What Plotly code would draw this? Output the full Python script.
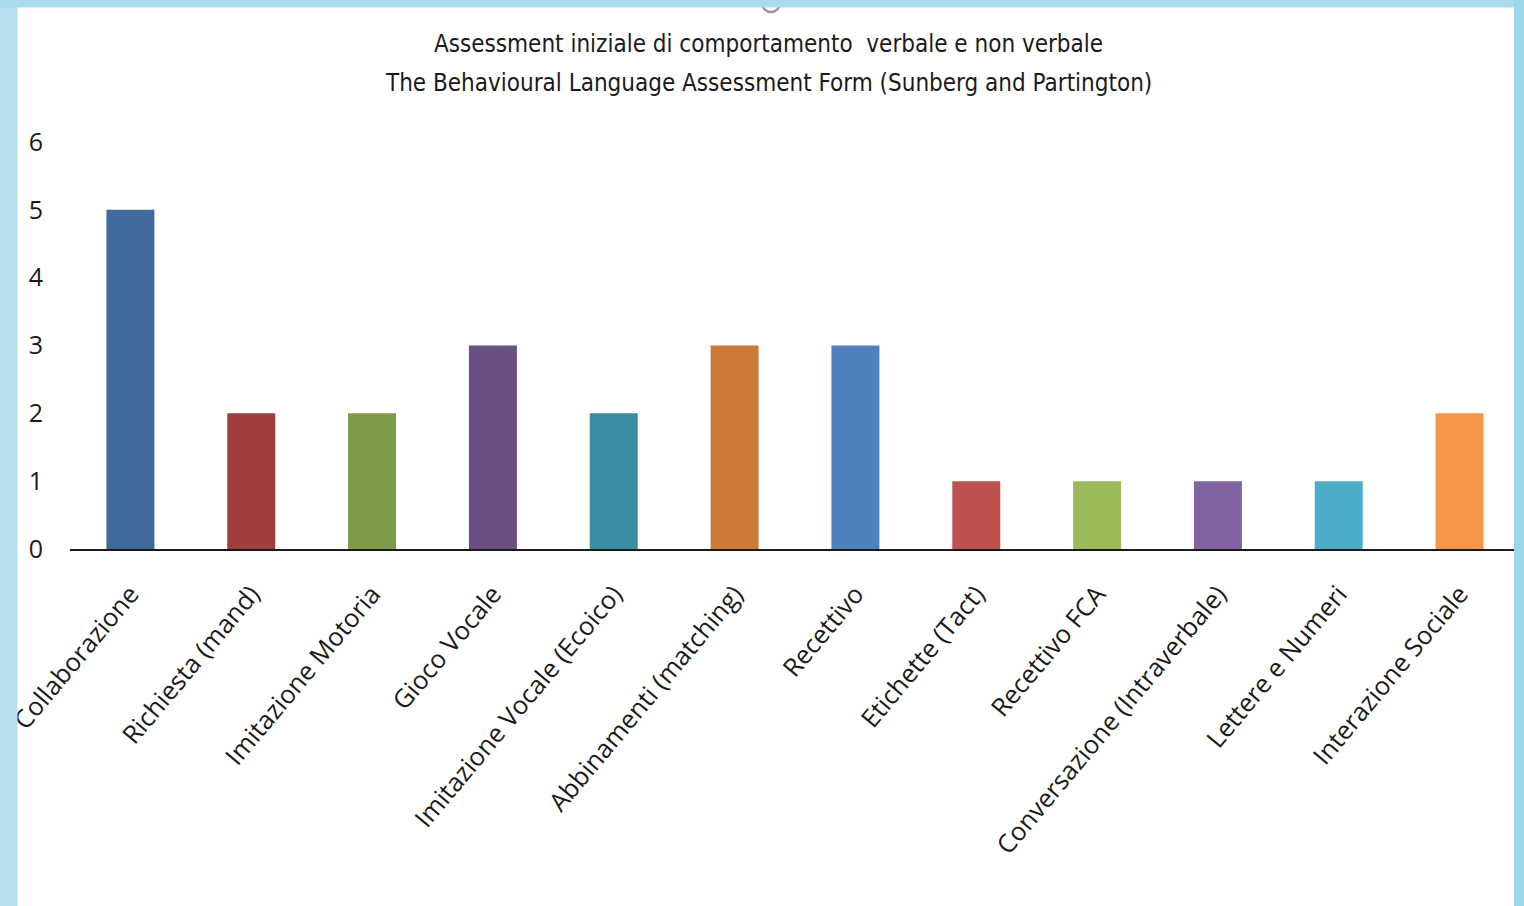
import plotly.graph_objects as go

categories = ["Collaborazione", "Richiesta (mand)", "Imitazione Motoria", "Gioco Vocale",
              "Imitazione Vocale (Ecoico)", "Abbinamenti (matching)", "Recettivo",
              "Etichette (Tact)", "Recettivo FCA", "Conversazione (Intraverbale)",
              "Lettere e Numeri", "Interazione Sociale"]
values = [5, 2, 2, 3, 2, 3, 3, 1, 1, 1, 1, 2]
colors = ["#3F6A9C", "#9E3F3D", "#7F9A48", "#6A4F85", "#3B8DA4", "#CC7A38",
          "#4F81BD", "#C0504D", "#9BBB59", "#8064A2", "#4BACC6", "#F79646"]
yticks = [0, 1, 2, 3, 4, 5, 6]
title_lines = ["Assessment iniziale di comportamento  verbale e non verbale",
               "The Behavioural Language Assessment Form (Sunberg and Partington)"]

W, H = 1524, 906
L, R, T, B = 70, 4, 142, 357
pw, ph = W - L - R, H - T - B

def px(x):
    return (x - L) / pw

def py(y):
    return (H - B - y) / ph

fig = go.Figure(go.Bar(
    x=categories, y=values,
    marker=dict(color=colors, line=dict(width=0)),
    hoverinfo="x+y",
))

title_font = dict(family="DejaVu Sans Condensed, sans-serif", size=24, color="#1a1a1a")
annotations = [
    dict(text=title_lines[0], xref="paper", yref="paper", x=px(768), y=py(44),
         xanchor="center", yanchor="middle", showarrow=False, font=title_font),
    dict(text=title_lines[1], xref="paper", yref="paper", x=px(768), y=py(83),
         xanchor="center", yanchor="middle", showarrow=False, font=title_font),
]

fig.update_layout(
    width=W, height=H,
    margin=dict(l=L, r=R, t=T, b=B, autoexpand=False),
    paper_bgcolor="white", plot_bgcolor="rgba(0,0,0,0)",
    bargap=0.603,
    showlegend=False,
    annotations=annotations,
    xaxis=dict(
        showline=True, linecolor="#1a1a1a", linewidth=2,
        showgrid=False, zeroline=False, ticks="",
        tickangle=-50, ticklabelstandoff=18,
        tickfont=dict(family="Open Sans, sans-serif", size=25.5, color="#1a1a1a"),
    ),
    yaxis=dict(
        range=[0, 6], tickvals=yticks, showgrid=False, zeroline=False,
        showline=False, ticks="", ticklabelstandoff=26,
        tickfont=dict(family="Open Sans, sans-serif", size=25, color="#1a1a1a"),
    ),
    shapes=[
        dict(type="circle", xref="paper", yref="paper",
             x0=px(762), x1=px(780), y0=py(12), y1=py(-6),
             line=dict(color="#9a9a9a", width=2.5), layer="above"),
        dict(type="rect", xref="paper", yref="paper",
             x0=px(-5), x1=px(17.5), y0=py(H + 5), y1=py(-5),
             fillcolor="#B6DFEF", line=dict(width=0), layer="above"),
        dict(type="rect", xref="paper", yref="paper",
             x0=px(-5), x1=px(W + 5), y0=py(7.5), y1=py(-5),
             fillcolor="#A9DAED", line=dict(width=0), layer="above"),
        dict(type="rect", xref="paper", yref="paper",
             x0=px(1514), x1=px(W + 5), y0=py(H + 5), y1=py(-5),
             fillcolor="#9DD6EA", line=dict(width=0), layer="above"),
    ],
)

fig.write_html("out.html",
               config={"displayModeBar": False},
               post_script="document.body.style.margin='0';document.body.style.overflow='hidden';")
